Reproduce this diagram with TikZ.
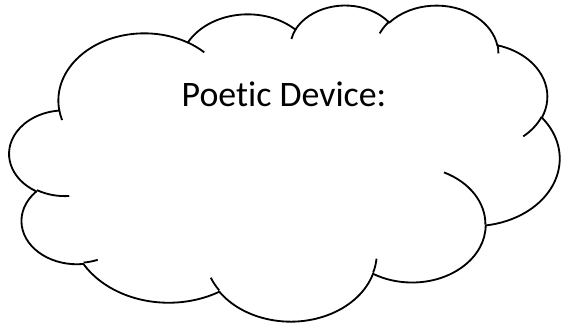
\documentclass[tikz,border=0pt]{standalone}
\usepackage{fontspec}
\setmainfont{Carlito}[Ligatures=NoCommon]
\usetikzlibrary{positioning, calc}

% parametric start angle and sweep of an elliptic arc given by visual angles
\newcommand{\puffcalc}[4]{%
    \pgfmathsetmacro{\puffA}{atan2((#1)*sin(#3), (#2)*cos(#3))}%
    \pgfmathsetmacro{\puffB}{atan2((#1)*sin((#3)+(#4)), (#2)*cos((#3)+(#4)))}%
    \pgfmathsetmacro{\puffD}{(\puffB)-(\puffA)-360*round(((\puffB)-(\puffA)-(#4))/360)}%
}

\begin{document}
\begin{tikzpicture}[
    % Styles
    outline/.style={ % Cloud line
        draw=black,
        line width=1.3pt,
        line join=round
    },
    frame/.style={ % Cloud frame, 43.2 units each way
        shift={(0.2375,7.9375)},
        xscale=0.318287,
        yscale=-0.182870
    },
    title/.style={ % Text in the cloud
        font=\fontsize{25.5}{30}\selectfont,
        anchor=base,
        inner sep=0pt
    }
]

    % Page
    \useasboundingbox (0,0) rectangle (14.175,8.05);

    \begin{scope}[frame]
        % Cloud outline
        \draw[outline, fill=white] (3.900,14.370)
            foreach \wr/\hr/\st/\sw in {
                6.753/9.190/-190.4875/123.7805,
                5.333/7.267/-144.1024/89.9452,
                4.365/5.945/-145.8079/99.7230,
                4.857/6.595/-130.9861/117.2417,
                5.333/7.273/-78.7089/109.0269,
                6.775/9.220/-46.2673/130.2690,
                5.785/7.867/0.6250/114.0333,
                6.752/9.215/22.4516/115.1726,
                7.720/10.543/66.2426/75.7110,
                4.360/5.918/-274.9421/146.7356,
                4.345/5.945/-246.8285/152.5189} {
                \pgfextra{\puffcalc{\wr}{\hr}{\st}{\sw}}
                arc[start angle=\puffA, delta angle=\puffD, x radius=\wr cm, y radius=\hr cm]
            } -- cycle;

        % Inner strokes where the puffs overlap
        \foreach \px/\py/\wr/\hr/\st/\sw in {
            4.693/26.177/4.345/5.945/86.7420/26.4295,
            6.928/34.899/4.360/5.918/73.6105/11.4475,
            16.478/39.090/6.752/9.215/137.6242/14.0811,
            28.827/34.751/6.752/9.215/6.4533/15.9984,
            34.129/22.954/5.785/7.867/-70.2924/70.9174,
            41.798/15.354/5.333/7.273/30.3180/27.7515,
            38.324/5.426/4.857/6.595/-13.7443/14.8589,
            29.078/3.952/4.857/6.595/-149.1815/18.1954,
            22.141/4.720/4.365/5.945/-163.4943/17.6864,
            14.000/5.192/6.753/9.190/-66.7070/12.3194,
            4.127/15.789/6.753/9.190/157.6544/11.8582} {
            \puffcalc{\wr}{\hr}{\st}{\sw}
            \draw[outline] (\px,\py)
                arc[start angle=\puffA, delta angle=\puffD, x radius=\wr cm, y radius=\hr cm];
        }
    \end{scope}

    % Heading
    \node[title] (heading) at (7.1,5.375) {Poetic Device:};

\end{tikzpicture}
\end{document}
